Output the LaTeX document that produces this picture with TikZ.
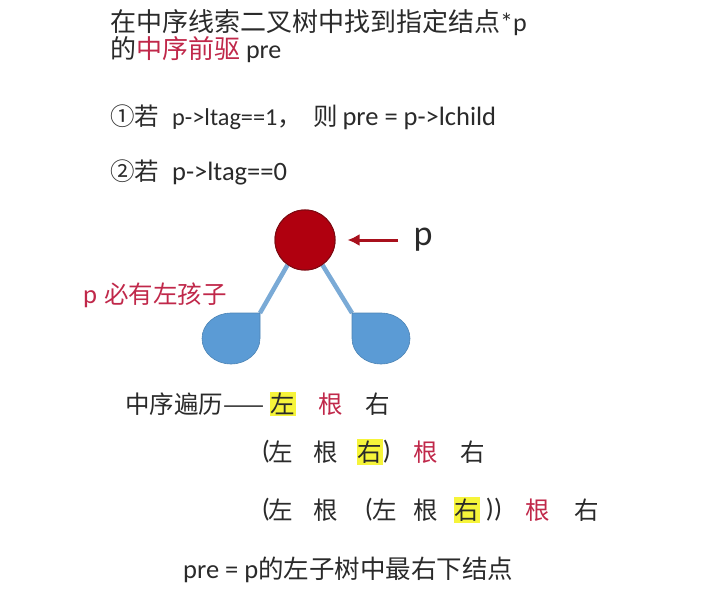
\documentclass[tikz,border=0pt]{standalone}
\usepackage{fontspec}
\usetikzlibrary{arrows.meta}
\setmainfont{Carlito}
\newfontfamily\cjk{Noto Sans CJK SC}
\definecolor{txtgray}{HTML}{2A2A2A}
\definecolor{hlred}{HTML}{C0284A}
\definecolor{nodered}{HTML}{B0000F}
\definecolor{nodeborder}{HTML}{7E0A12}
\definecolor{arrred}{HTML}{A8101C}
\definecolor{blobblue}{HTML}{5B9BD5}
\definecolor{lineblue}{HTML}{7AAAD6}
\definecolor{hlyellow}{HTML}{F6F43A}
\newcommand{\zh}[1]{{\cjk\fontsize{24.5}{28}\selectfont #1}}
\newcommand{\zhb}[1]{{\cjk\fontsize{25.5}{28}\selectfont #1}}
\newcommand{\lat}[1]{{\fontsize{24.3}{28}\selectfont #1}}
\tikzset{
  txt/.style={text=txtgray, inner sep=0pt, font=\fontsize{26.5}{30}\selectfont},
  titletxt/.style={text=txtgray, inner sep=0pt, font=\fontsize{26}{30}\selectfont},
  ch/.style={text=txtgray, inner sep=0pt, font=\cjk\fontsize{24.5}{28}\selectfont},
  redch/.style={ch, text=hlred},
  hlch/.style={ch, fill=hlyellow, inner xsep=1pt, inner ysep=1.5pt},
  par/.style={txt},
  blob/.style={fill=blobblue, draw=blobblue!85!black, line width=0.6pt},
  branch/.style={draw=lineblue, line width=4.5pt},
  rednode/.style={circle, minimum size=60pt, inner sep=0pt, fill=nodered, draw=nodeborder, line width=1pt},
}
\begin{document}
\begin{tikzpicture}[x=1pt,y=1pt]
\useasboundingbox (0,0) rectangle (706,598);
% title
\node[titletxt, anchor=west] (t1) at (110,575) {{\cjk 在中序线索二叉树中找到指定结点}*p};
\node[titletxt, anchor=west] (t2) at (110,548) {{\cjk 的}\textcolor{hlred}{\cjk 中序前驱} pre};
\node[txt, anchor=west] (t3) at (110,481) {\zh{①若}\hspace{13pt}\lat{p->ltag==1}\zh{，}\hspace{11pt}\zh{则}\hspace{5pt}pre = p->lchild};
\node[txt, anchor=west] (t4) at (110,426) {\zh{②若}\hspace{13pt}p->ltag==0};
% tree
\coordinate (lc) at (260,285);
\coordinate (rc) at (352,285);
\node[rednode] (p) at (305,358) {};
\draw[branch] (p.235) -- (lc);
\draw[branch] (p.305) -- (rc);
\node[rednode] (p2) at (305,358) {};
\path[blob] (lc) -- (231,285) arc[start angle=90, end angle=360, x radius=29, y radius=25.5] -- cycle;
\path[blob] (rc) -- (381,285) arc[start angle=90, end angle=-180, x radius=29, y radius=25.5] -- cycle;
\coordinate (arrstart) at (398,358);
\draw[arrred, line width=3pt, -{Latex[length=12pt,width=12pt]}, shorten >=12pt] (arrstart) -- (p2.east);
\node[text=txtgray, inner sep=0pt, font=\fontsize{36}{40}\selectfont] (plabel) at (423,358) {p};
\node[anchor=west, inner sep=0pt, text=hlred, font=\fontsize{26.5}{28}\selectfont] (haschild) at (83,303) {p\hspace{7pt}\zh{必有左孩子}};
% traversal line A
\node[ch, anchor=west] (a0) at (125,194) {中序遍历——};
\node[hlch] (a1) at (283,194) {左};
\node[redch] (a2) at (331,194) {根};
\node[ch] (a3) at (378,194) {右};
% line B
\node[par] (b0) at (266,146) {(};
\node[ch] (b1) at (281,146) {左};
\node[ch] (b2) at (326,146) {根};
\node[hlch] (b3) at (370,146) {右};
\node[par] (b4) at (387,146) {)};
\node[redch] (b5) at (426,146) {根};
\node[ch] (b6) at (473,146) {右};
% line C
\node[par] (c0) at (266,88) {(};
\node[ch] (c1) at (281,88) {左};
\node[ch] (c2) at (326,88) {根};
\node[par] (c3) at (369,88) {(};
\node[ch] (c4) at (385,88) {左};
\node[ch] (c5) at (426,88) {根};
\node[hlch] (c6) at (467,88) {右};
\node[par] (c7) at (494,88) {))};
\node[redch] (c8) at (538,88) {根};
\node[ch] (c9) at (587,88) {右};
% conclusion
\node[txt, anchor=west] (concl) at (183,28) {pre = p\zhb{的左子树中最右下结点}};
\end{tikzpicture}
\end{document}
